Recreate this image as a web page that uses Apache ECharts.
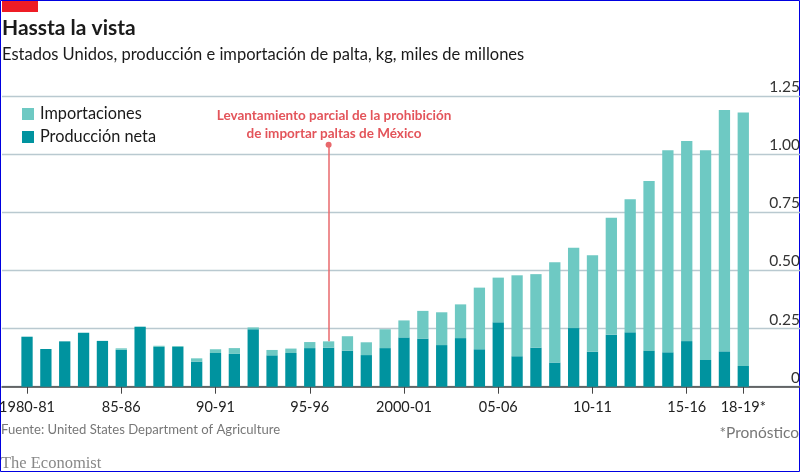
<!DOCTYPE html>
<html>
<head>
<meta charset="utf-8">
<style>
  html, body { margin: 0; padding: 0; background: #fff; }
  #chart { width: 800px; height: 472px; }
</style>
<script src="https://cdn.jsdelivr.net/npm/echarts@6/dist/echarts.min.js"></script>
</head>
<body>
<div id="chart"></div>
<script>
const categories = ['1980-81','81-82','82-83','83-84','84-85','85-86','86-87','87-88','88-89','89-90',
  '90-91','91-92','92-93','93-94','94-95','95-96','96-97','97-98','98-99','99-2000',
  '2000-01','01-02','02-03','03-04','04-05','05-06','06-07','07-08','08-09','09-10',
  '10-11','11-12','12-13','13-14','14-15','15-16','16-17','17-18','18-19*']
const labelledYears = [0, 5, 10, 15, 20, 25, 30, 35, 38]

const produccion = [0.215,0.162,0.195,0.232,0.197,0.159,0.258,0.171,0.171,0.108,
  0.145,0.141,0.247,0.135,0.145,0.166,0.168,0.155,0.136,0.166,
  0.212,0.207,0.179,0.209,0.161,0.277,0.131,0.168,0.104,0.252,
  0.151,0.224,0.234,0.154,0.148,0.196,0.115,0.152,0.089]
const importaciones = [0,0,0,0,0,0.006,0,0.005,0.004,0.014,
  0.016,0.025,0.008,0.023,0.019,0.026,0.027,0.062,0.055,0.081,
  0.073,0.119,0.141,0.145,0.265,0.192,0.348,0.316,0.431,0.346,
  0.414,0.503,0.572,0.730,0.869,0.860,0.902,1.038,1.090]

const annotationYear = 16
const annotationTop = 1.04

const font = 'Lato, "Noto Sans", sans-serif'
const chart = echarts.init(document.getElementById('chart'))

const isLabelled = (i) => labelledYears.includes(i)

chart.setOption({
  animation: false,
  backgroundColor: '#fff',
  title: [
    { text: 'Hassta la vista', left: 2, top: 18, textStyle: { fontFamily: font, fontSize: 21, fontWeight: 'bold', color: '#1a1a1a' }, padding: 0 },
    { text: 'Estados Unidos, producción e importación de palta, kg, miles de millones', left: 2, top: 46, textStyle: { fontFamily: font, fontSize: 16.5, fontWeight: 'normal', color: '#1a1a1a' }, padding: 0 },
    { text: 'Levantamiento parcial de la prohibición\nde importar paltas de México', left: 334, top: 107, textAlign: 'center', textStyle: { fontFamily: font, fontSize: 13.5, fontWeight: 'bold', color: '#e3545a', lineHeight: 18 }, padding: 0 },
    { text: 'Fuente: United States Department of Agriculture', left: 1, top: 423, textStyle: { fontFamily: font, fontSize: 13.1, fontWeight: 'normal', color: '#777' }, padding: 0 },
    { text: '*Pronóstico', right: 1, top: 425, textStyle: { fontFamily: font, fontSize: 15.5, fontWeight: 'normal', color: '#777' }, padding: 0 },
    { text: 'The Economist', left: 1, top: 455, textStyle: { fontFamily: '"Liberation Serif", serif', fontSize: 16.5, fontWeight: 'normal', color: '#888' }, padding: 0 }
  ],
  legend: {
    orient: 'vertical',
    left: 22,
    top: 106,
    padding: 0,
    icon: 'rect',
    itemWidth: 12,
    itemHeight: 12,
    itemGap: 7,
    data: ['Importaciones', 'Producción neta'],
    textStyle: { fontFamily: font, fontSize: 16.3, color: '#1a1a1a', padding: [0, 0, 0, 1] }
  },
  // grid 0 carries the full-width rules and y labels, grid 1 the bars
  grid: [
    { left: 2, right: 0, top: 96, bottom: 85.3, outerBoundsMode: 'none' },
    { left: 17.6, right: 47.3, top: 96, bottom: 85.3, outerBoundsMode: 'none' }
  ],
  xAxis: [
    {
      gridIndex: 0,
      type: 'category',
      data: [''],
      axisLine: { show: true, lineStyle: { color: '#444', width: 1.5 } },
      axisTick: { show: false },
      axisLabel: { show: false }
    },
    {
      gridIndex: 1,
      type: 'category',
      data: categories,
      axisLine: { show: false },
      axisTick: { show: true, length: 7, alignWithLabel: true, interval: (i) => isLabelled(i), lineStyle: { color: '#444', width: 1 } },
      axisLabel: {
        interval: (i) => isLabelled(i),
        margin: 13,
        fontFamily: font,
        fontSize: 14.5,
        color: '#222'
      }
    }
  ],
  yAxis: [
    {
      gridIndex: 0,
      type: 'value',
      position: 'right',
      min: 0,
      max: 1.25,
      interval: 0.25,
      axisLine: { show: false },
      axisTick: { show: false },
      splitLine: { show: true, lineStyle: { color: '#b9c9d0', width: 1.4 } },
      axisLabel: {
        inside: true,
        verticalAlign: 'bottom',
        align: 'right',
        margin: 0,
        padding: [0, 0, 1, 0],
        fontFamily: font,
        fontSize: 15.5,
        color: '#333',
        formatter: (v) => (v === 0 ? '0' : v.toFixed(2))
      }
    },
    {
      gridIndex: 1,
      type: 'value',
      min: 0,
      max: 1.25,
      interval: 0.25,
      show: false
    }
  ],
  series: [
    {
      name: 'Producción neta',
      type: 'bar',
      stack: 'total',
      xAxisIndex: 1,
      yAxisIndex: 1,
      barWidth: 11.3,
      itemStyle: { color: '#00939f' },
      data: produccion,
      markLine: {
        silent: true,
        animation: false,
        symbol: ['none', 'circle'],
        symbolSize: 6,
        label: { show: false },
        lineStyle: { color: '#e8686c', width: 1.5, type: 'solid' },
        data: [[
          { coord: [annotationYear, produccion[annotationYear] + importaciones[annotationYear]] },
          { coord: [annotationYear, annotationTop] }
        ]]
      }
    },
    {
      name: 'Importaciones',
      type: 'bar',
      stack: 'total',
      xAxisIndex: 1,
      yAxisIndex: 1,
      barWidth: 11.3,
      itemStyle: { color: '#6ec9c3' },
      data: importaciones
    }
  ],
  graphic: [
    { type: 'rect', shape: { x: 2, y: 1, width: 36, height: 11 }, style: { fill: '#ee1c25' } },
    { type: 'rect', shape: { x: 0.5, y: 0.5, width: 799, height: 471 }, style: { fill: 'none', stroke: '#0000e0', lineWidth: 1 }, silent: true }
  ]
})
</script>
</body>
</html>
